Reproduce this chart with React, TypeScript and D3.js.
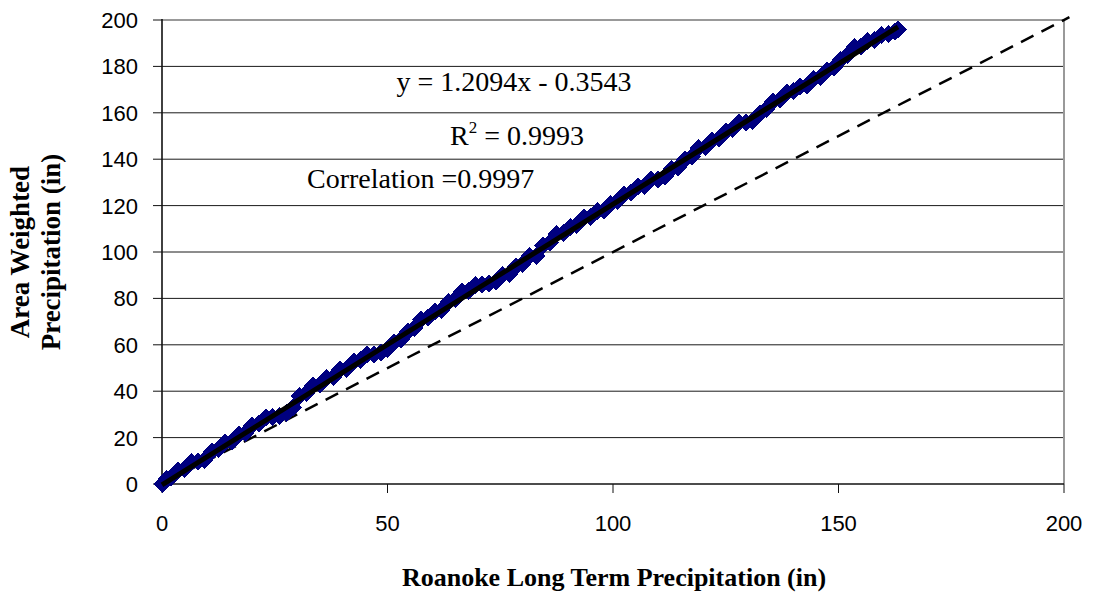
import React from "react";
import * as d3 from "d3";

// Cumulative precipitation pairs (inches)
const roanokeCum = [
  0, 1, 2, 3.5, 5, 6.5, 8, 9.5, 11, 12.5, 14, 15.5, 17, 18.5, 20, 21.5, 23, 24.5, 26, 27.5,
  29, 30.5, 32, 33.5, 35, 36.5, 38, 39.5, 41, 42.5, 44, 45.5, 47, 48.5, 50, 51.5, 53, 54.5,
  56, 57.5, 59, 60.5, 62, 63.5, 65, 66.5, 68, 69.5, 71, 72.5, 74, 75.5, 77, 78.5, 80, 81.5,
  83, 84.5, 86, 87.5, 89, 90.5, 92, 93.5, 95, 96.5, 98, 99.5, 101, 102.5, 104, 105.5, 107,
  108.5, 110, 111.5, 113, 114.5, 116, 117.5, 119, 120.5, 122, 123.5, 125, 126.5, 128, 129.5,
  131, 132.5, 134, 135.5, 137, 138.5, 140, 141.5, 143, 144.5, 146, 147.5, 149, 150.5, 152,
  153.5, 155, 156.5, 158, 159.5, 161, 162.5, 163.2,
];
const areaWeightedCum = [
  0, 2.2, 2.6, 5.8, 6.6, 9.6, 9.7, 10.4, 14.0, 15.0,
  17.9, 18.2, 21.3, 22.0, 25.2, 26.0, 28.6, 28.8, 29.4, 30.6,
  33.0, 37.8, 39.2, 42.5, 42.8, 45.6, 46.2, 49.2, 49.6, 52.8,
  53.4, 55.8, 55.9, 56.6, 58.0, 61.0, 62.2, 65.8, 67.2, 70.9,
  71.8, 74.5, 75.1, 78.6, 79.8, 82.8, 83.2, 85.9, 86.0, 86.4,
  87.2, 90.2, 90.4, 93.8, 94.8, 98.2, 98.4, 102.9, 104.0, 107.7,
  108.3, 110.8, 111.6, 114.9, 115.2, 117.6, 118.0, 120.7, 121.8, 124.8,
  125.7, 128.3, 128.4, 131.2, 131.3, 132.4, 135.9, 136.4, 140.0, 141.3,
  144.7, 145.4, 148.0, 148.8, 151.9, 152.9, 155.8, 155.9, 156.4, 159.7,
  161.7, 164.9, 165.8, 168.8, 169.3, 171.4, 171.6, 174.5, 175.4, 178.3,
  179.4, 182.8, 185.0, 188.4, 188.7, 191.0, 191.3, 193.6, 194.0, 195.0,
  196.0,
];

// Linear fit and statistics
const slope = 1.2094;
const intercept = -0.3543;
const equationText = "y = 1.2094x - 0.3543";
const rSquaredText = "0.9993";
const correlationText = "Correlation =0.9997";

const xTicks = [0, 50, 100, 150, 200];
const yTicks = [0, 20, 40, 60, 80, 100, 120, 140, 160, 180, 200];
const oneToOne = [0, 201.2];

const W = 1096;
const H = 594;
const left = 162;
const right = 1064;
const top = 20;
const bottom = 484;

const serif = "'Liberation Serif', 'Times New Roman', Times, serif";
const sans = "'Liberation Sans', Arial, Helvetica, sans-serif";

export default function App() {
  const x = d3.scaleLinear().domain([0, 200]).range([left, right]);
  const y = d3.scaleLinear().domain([0, 200]).range([bottom, top]);

  const points = roanokeCum.map((v, i) => [v, areaWeightedCum[i]] as [number, number]);
  const xMax = d3.max(roanokeCum) as number;

  const line = d3
    .line<[number, number]>()
    .x((d) => x(d[0]))
    .y((d) => y(d[1]));

  const trend: [number, number][] = [
    [0, intercept],
    [xMax, slope * xMax + intercept],
  ];
  const identity: [number, number][] = [
    [oneToOne[0], oneToOne[0]],
    [oneToOne[1], oneToOne[1]],
  ];

  const m = 9;
  const diamond = `M0,${-m}L${m},0L0,${m}L${-m},0Z`;

  return (
    <svg
      width={W}
      height={H}
      viewBox={`0 0 ${W} ${H}`}
      style={{ position: "absolute", left: 0, top: 0, background: "#fff" }}
    >
      <rect x={0} y={0} width={W} height={H} fill="#fff" />

      {/* horizontal gridlines */}
      {yTicks
        .filter((t) => t > 0 && t < 200)
        .map((t) => (
          <line key={t} x1={left} x2={right} y1={y(t)} y2={y(t)} stroke="#1a1a1a" strokeWidth={1} />
        ))}

      {/* plot border: top and right */}
      <line x1={left} x2={right} y1={top} y2={top} stroke="#999" strokeWidth={2} />
      <line x1={right} x2={right} y1={top} y2={bottom} stroke="#999" strokeWidth={2} />

      {/* axes */}
      <line x1={left} x2={left} y1={top - 1} y2={bottom} stroke="#111" strokeWidth={1.6} />
      <line x1={left} x2={right} y1={bottom} y2={bottom} stroke="#111" strokeWidth={1.6} />

      {/* y ticks and labels */}
      {yTicks.map((t) => (
        <g key={"y" + t}>
          <line x1={left - 9} x2={left} y1={y(t)} y2={y(t)} stroke="#111" strokeWidth={1} />
          <text
            x={138}
            y={y(t) + 8}
            textAnchor="end"
            fontFamily={sans}
            fontSize={22}
            fill="#000"
          >
            {t}
          </text>
        </g>
      ))}

      {/* x ticks and labels */}
      {xTicks.map((t) => (
        <g key={"x" + t}>
          <line x1={x(t)} x2={x(t)} y1={bottom} y2={bottom + 9} stroke="#111" strokeWidth={1} />
          <text x={x(t)} y={531} textAnchor="middle" fontFamily={sans} fontSize={22} fill="#000">
            {t}
          </text>
        </g>
      ))}

      {/* 1:1 reference line */}
      <path
        d={line(identity) as string}
        fill="none"
        stroke="#000"
        strokeWidth={2.5}
        strokeDasharray="14,9"
      />

      {/* data markers */}
      <g shapeRendering="crispEdges">
        {points.map((p, i) => (
          <path key={i} d={diamond} transform={`translate(${x(p[0])},${y(p[1])})`} fill="#000080" />
        ))}
      </g>

      {/* fitted line */}
      <path d={line(trend) as string} fill="none" stroke="#000" strokeWidth={5} />

      {/* fit annotations */}
      <text x={514} y={91} textAnchor="middle" fontFamily={serif} fontSize={28} fill="#000">
        {equationText}
      </text>
      <text x={517} y={145} textAnchor="middle" fontFamily={serif} fontSize={28} fill="#000">
        <tspan>R</tspan>
        <tspan fontSize={17} dy={-12}>2</tspan>
        <tspan dy={12}>{" = " + rSquaredText}</tspan>
      </text>
      <text x={307} y={188} fontFamily={serif} fontSize={28} fill="#000">
        {correlationText}
      </text>

      {/* axis titles */}
      <text
        x={614}
        y={586}
        textAnchor="middle"
        fontFamily={serif}
        fontWeight="bold"
        fontSize={26}
        fill="#000"
      >
        Roanoke Long Term Precipitation (in)
      </text>
      <g transform="translate(0,252) rotate(-90)">
        <text x={0} y={29} textAnchor="middle" fontFamily={serif} fontWeight="bold" fontSize={27} fill="#000">
          Area Weighted
        </text>
        <text x={0} y={60} textAnchor="middle" fontFamily={serif} fontWeight="bold" fontSize={27} fill="#000">
          Precipitation (in)
        </text>
      </g>
    </svg>
  );
}
